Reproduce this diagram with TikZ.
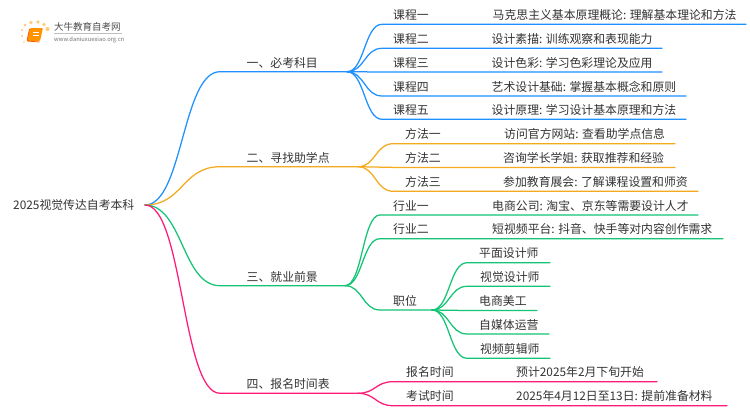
\documentclass[tikz,border=0pt]{standalone}
\usepackage{fontspec}
\setmainfont{Noto Sans CJK SC}
\definecolor{cblue}{HTML}{1E90FF}
\definecolor{corange}{HTML}{F5A91E}
\definecolor{cgreen}{HTML}{12C474}
\definecolor{cpink}{HTML}{FF1A78}
\definecolor{ctext}{HTML}{333333}
\tikzset{
  lbl/.style={inner sep=0pt,anchor=base west,text=ctext,font=\fontsize{11.85}{14}\selectfont},
  wire/.style={line width=1.25pt,line cap=round},
  dotmark/.style={circle,fill=orange!80!yellow,inner sep=0pt,opacity=.5}
}
% #1 colour, #2 from, #3 to, #4 control distance, #5 line end
\newcommand{\limb}[5]{\draw[wire,draw=#1] (#2) .. controls +(#4,0) and +(-#4,0) .. (#3) -- (#5);}
% name, x of start, y, x of line end, label x, label, detail x, detail
\newcommand{\leafrow}[9]{%
  \coordinate (#1s) at (#2,#3);
  \coordinate (#1e) at (#4,#3);
  \node[lbl] (#1l) at (#5,#3-5) {#6};
  \node[lbl] (#1d) at (#7,#3-5) {#8};
  \limb{#9}{hub}{#1s}{17.5}{#1e}
}
\begin{document}
\begin{tikzpicture}[x=1pt,y=-1pt]
\useasboundingbox (0,0) rectangle (750,410);
\fill[white] (0,0) rectangle (750,410);
% logo
\foreach \px/\py/\r in {25/25/1.5,31/22.5/1.8,38/22/1.9,44/24.5/1.9,47.5/29/2.1,22/30/1.2,22/36/1.1,24/42/.9}
  \node[dotmark,minimum size=2*\r pt] at (\px,\py) {};
\fill[orange!85!yellow,rounded corners=1pt] (30,28) -- (43,28) -- (40,41) -- (27,41) -- cycle;
\draw[orange!70!red,line width=.8pt,rounded corners=1pt] (29.5,29) -- (27,41) -- (39.5,42);
\draw[white,line width=.6pt] (33,32) -- (39,32) (32.5,35) -- (38.5,35);
\node[inner sep=0pt,anchor=base west,text=black!70,font=\fontsize{9.5}{11}\selectfont] (logoa) at (54,30.5) {大牛教育自考网};
\draw[black!25,line width=.5pt] (54,33.5) -- (122,33.5);
\node[inner sep=0pt,anchor=base west,text=black!55,font=\fontsize{5.8}{7}\selectfont] (logob) at (54,41) {www.daniuxuexiao.org.cn};
% root
\coordinate (root) at (145,205);
\node[lbl] (rootl) at (13,209.5) {2025视觉传达自考本科};
% level 1
\foreach \n/\y/\e/\c/\t in {a/71.7/347/cblue/一、必考科目,b/166.7/358/corange/二、寻找助学点,c/285.7/345/cgreen/三、就业前景,d/393.3/358/cpink/四、报名时间表}{
  \coordinate (\n s) at (220,\y);
  \coordinate (\n h) at (\e,\y);
  \node[lbl] (\n l) at (246.5,\y-4.7) {\t};
  \limb{\c}{root}{\n s}{38}{\n h}
}
% branch one
\begin{scope}
\coordinate (hub) at (ah);
\leafrow{a1}{382}{24.3}{746}{393}{课程一}{492.5}{马克思主义基本原理概论: 理解基本理论和方法}{cblue}
\leafrow{a2}{382}{48.3}{662}{393}{课程二}{491.5}{设计素描: 训练观察和表现能力}{cblue}
\leafrow{a3}{382}{72}{662}{393}{课程三}{491.5}{设计色彩: 学习色彩理论及应用}{cblue}
\leafrow{a4}{382}{96}{686}{393}{课程四}{491.5}{艺术设计基础: 掌握基本概念和原则}{cblue}
\leafrow{a5}{382}{119.3}{686}{393}{课程五}{491.5}{设计原理: 学习设计基本原理和方法}{cblue}
\end{scope}
% branch two
\begin{scope}
\coordinate (hub) at (bh);
\leafrow{b1}{393}{143.7}{675}{405}{方法一}{504}{访问官方网站: 查看助学点信息}{corange}
\leafrow{b2}{393}{167.4}{675}{405}{方法二}{503}{咨询学长学姐: 获取推荐和经验}{corange}
\leafrow{b3}{393}{191.3}{698}{405}{方法三}{503}{参加教育展会: 了解课程设置和师资}{corange}
\end{scope}
% branch three
\begin{scope}
\coordinate (hub) at (ch);
\leafrow{c1}{380}{215}{698}{393}{行业一}{492}{电商公司: 淘宝、京东等需要设计人才}{cgreen}
\leafrow{c2}{380}{238.7}{723}{393}{行业二}{492}{短视频平台: 抖音、快手等对内容创作需求}{cgreen}
\coordinate (c3s) at (380,310);
\coordinate (c3e) at (432,310);
\node[lbl] (c3l) at (393,305) {职位};
\limb{cgreen}{hub}{c3s}{17.5}{c3e}
\end{scope}
% jobs
\begin{scope}
\coordinate (hub) at (c3e);
\leafrow{j1}{467}{262.7}{550}{479}{平面设计师}{479}{}{cgreen}
\leafrow{j2}{467}{286.3}{550}{480}{视觉设计师}{480}{}{cgreen}
\leafrow{j3}{467}{310.5}{537}{479}{电商美工}{479}{}{cgreen}
\leafrow{j4}{467}{334}{549}{479}{自媒体运营}{479}{}{cgreen}
\leafrow{j5}{467}{358.3}{550}{480}{视频剪辑师}{480}{}{cgreen}
\end{scope}
% branch four
\begin{scope}
\coordinate (hub) at (dh);
\leafrow{d1}{393}{381.7}{657}{406}{报名时间}{516}{预计2025年2月下旬开始}{cpink}
\leafrow{d2}{393}{405.7}{727}{406}{考试时间}{516}{2025年4月12日至13日: 提前准备材料}{cpink}
\end{scope}
\end{tikzpicture}
\end{document}
